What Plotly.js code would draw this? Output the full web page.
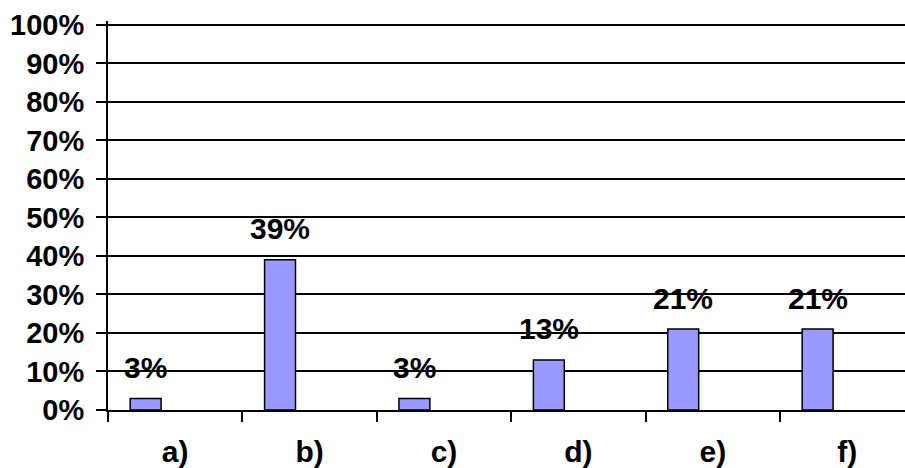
<!DOCTYPE html>
<html>
<head>
<meta charset="utf-8">
<script src="https://cdn.plot.ly/plotly-3.0.1.min.js"></script>
<style>html,body{margin:0;padding:0;background:#fff;}#chart{width:905px;height:468px;}</style>
</head>
<body>
<div id="chart"></div>
<script>
const categories = ['a)', 'b)', 'c)', 'd)', 'e)', 'f)'];
const values = [3, 39, 3, 13, 21, 21];
const labels = ['3%', '39%', '3%', '13%', '21%', '21%'];

const FONT = 'Arial, "Liberation Sans", sans-serif';
const BAR_OFFSET = -0.335;
const BAR_WIDTH = 0.23;

const trace = {
  type: 'bar',
  x: categories,
  y: values,
  offset: BAR_OFFSET,
  width: BAR_WIDTH,
  marker: {color: '#9999FF', line: {color: '#000000', width: 1.5}},
  hoverinfo: 'skip'
};

const annotations = categories.map((c, i) => ({
  x: i + BAR_OFFSET + BAR_WIDTH / 2,
  y: values[i],
  xref: 'x', yref: 'y',
  text: labels[i],
  showarrow: false,
  yanchor: 'middle',
  yshift: 31,
  font: {family: FONT, size: 30, color: '#000000', weight: 'bold'}
}));

const layout = {
  width: 905, height: 468,
  margin: {l: 108, r: 0, t: 21, b: 58, pad: 0},
  paper_bgcolor: '#ffffff',
  plot_bgcolor: '#ffffff',
  showlegend: false,
  font: {family: FONT, color: '#000000'},
  xaxis: {
    type: 'category',
    range: [-0.5, 5.43],
    tickson: 'boundaries',
    ticks: 'outside', ticklen: 10, tickwidth: 2, tickcolor: '#000000',
    showline: true, linecolor: '#000000', linewidth: 2,
    showgrid: false, zeroline: false,
    ticklabelstandoff: 14,
    tickfont: {family: FONT, size: 30, color: '#000000', weight: 'bold'},
    fixedrange: true
  },
  yaxis: {
    range: [0, 101],
    dtick: 10, tick0: 0,
    ticksuffix: '%',
    ticks: 'outside', ticklen: 10, tickwidth: 2, tickcolor: '#000000',
    showline: true, linecolor: '#000000', linewidth: 2,
    showgrid: true, gridcolor: '#000000', gridwidth: 2,
    zeroline: false,
    ticklabelstandoff: 6,
    tickfont: {family: FONT, size: 29, color: '#000000', weight: 'bold'},
    fixedrange: true
  },
  annotations: annotations
};

Plotly.newPlot('chart', [trace], layout, {displayModeBar: false, staticPlot: true});
</script>
</body>
</html>
